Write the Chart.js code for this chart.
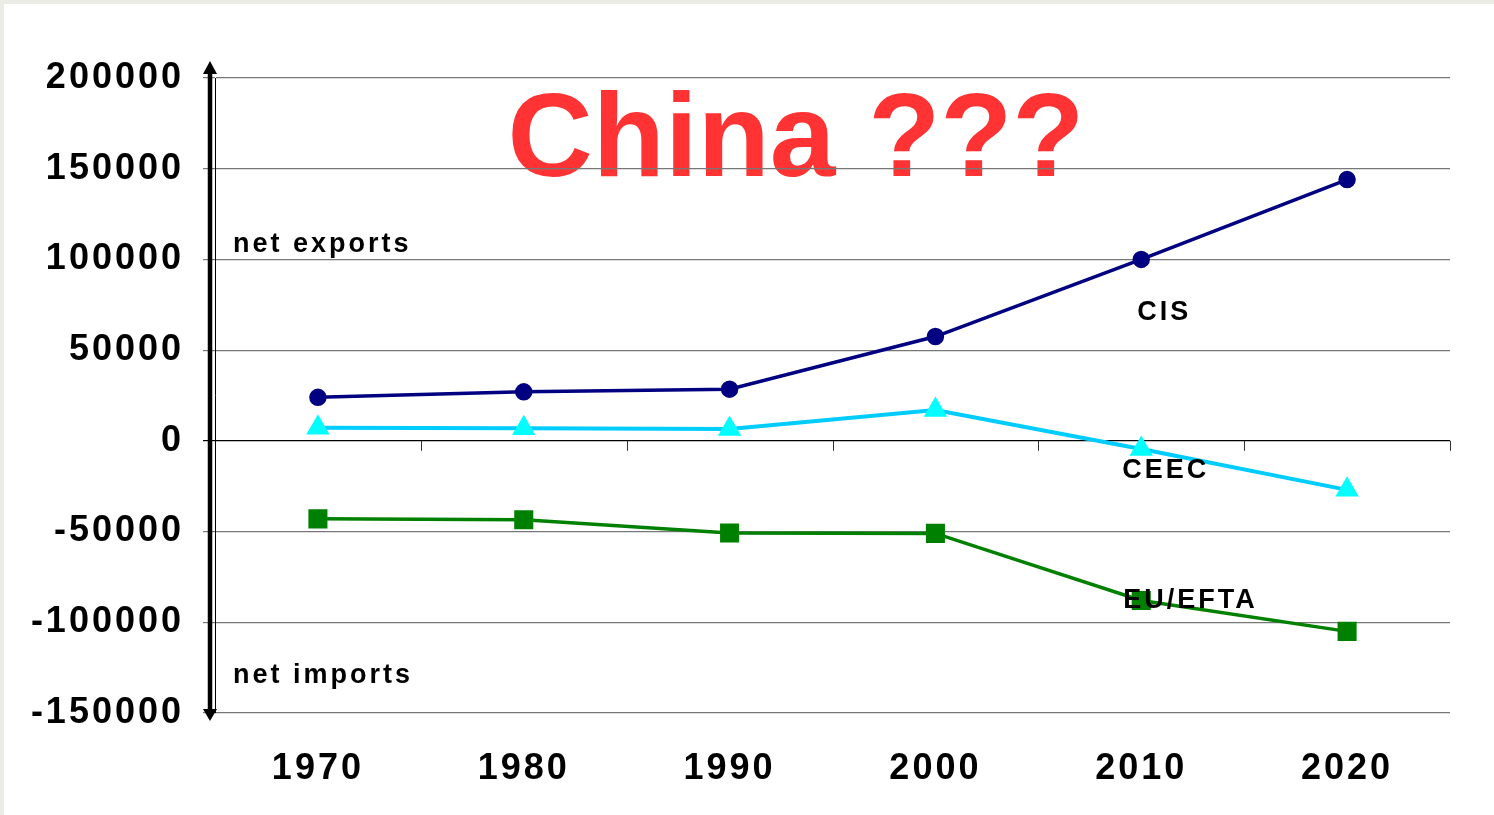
<!DOCTYPE html>
<html>
<head>
<meta charset="utf-8">
<script src="https://cdn.jsdelivr.net/npm/chart.js@4.4.1/dist/chart.umd.min.js"></script>
<style>
  html, body { margin: 0; padding: 0; background: #fff; overflow: hidden; }
  #wrap { width: 1494px; height: 815px; position: relative; }
</style>
</head>
<body>
<div id="wrap"><canvas id="trade"></canvas></div>
<script>
// Data
const years = ['1970', '1980', '1990', '2000', '2010', '2020'];
const cis = [24000, 27000, 28500, 57500, 100000, 144000];
const ceec = [7200, 7000, 6500, 17000, -4500, -27000];
const euEfta = [-43000, -43500, -50800, -51000, -88000, -105000];
const yTicks = [200000, 150000, 100000, 50000, 0, -50000, -100000, -150000];

// Text annotations: [text, x category index, x offset, y value]
const seriesLabels = [
  ['CIS', 4, -4, 70500],
  ['CEEC', 4, -19, -16500],
  ['EU/EFTA', 4, -18, -88200]
];
const sideLabels = [
  ['net exports', 108000],
  ['net imports', -129500]
];
const headline = 'China ???';

const FONT = 'Arial, "Liberation Sans", sans-serif';

const decor = {
  id: 'decor',
  beforeDraw(chart) {
    const { ctx, chartArea: a, scales: { y } } = chart;
    ctx.save();
    ctx.fillStyle = '#fff';
    ctx.fillRect(0, 0, chart.width, chart.height);
    // textured border strips
    ctx.fillStyle = '#ecece6';
    ctx.fillRect(0, 0, chart.width, 4);
    ctx.fillRect(0, 0, 4, chart.height);
    // headline
    ctx.fillStyle = '#ff3333';
    ctx.font = 'bold 118px ' + FONT;
    ctx.letterSpacing = '0px';
    ctx.textAlign = 'center';
    ctx.textBaseline = 'alphabetic';
    ctx.fillText(headline, a.left + 581, y.getPixelForValue(146000));
    // net exports / imports
    ctx.fillStyle = '#000';
    ctx.font = 'bold 27px ' + FONT;
    ctx.letterSpacing = '3px';
    ctx.textAlign = 'left';
    ctx.textBaseline = 'middle';
    sideLabels.forEach(([t, v]) => ctx.fillText(t, a.left + 18, y.getPixelForValue(v)));
    ctx.restore();
    ctx.letterSpacing = '3px';
  },
  beforeDatasetsDraw(chart) {
    const { ctx, chartArea: a, scales: { y } } = chart;
    const y0 = y.getPixelForValue(0);
    ctx.save();
    // ticks on the zero line between categories
    ctx.strokeStyle = '#333';
    ctx.lineWidth = 1;
    const step = (a.right - a.left) / years.length;
    for (let i = 1; i <= years.length; i++) {
      const x = Math.round(a.left + i * step) + 0.5;
      ctx.beginPath();
      ctx.moveTo(x, y0);
      ctx.lineTo(x, y0 + 10);
      ctx.stroke();
    }
    // thick double-headed arrow
    const ax = a.left - 5;
    const top = a.top - 17, bot = a.bottom + 8;
    ctx.strokeStyle = '#000';
    ctx.fillStyle = '#000';
    ctx.lineWidth = 4.5;
    ctx.beginPath();
    ctx.moveTo(ax, top + 8);
    ctx.lineTo(ax, bot - 8);
    ctx.stroke();
    ctx.beginPath();
    ctx.moveTo(ax, top);
    ctx.lineTo(ax - 7, top + 13);
    ctx.lineTo(ax + 7, top + 13);
    ctx.closePath();
    ctx.fill();
    ctx.beginPath();
    ctx.moveTo(ax, bot);
    ctx.lineTo(ax - 7, bot - 12);
    ctx.lineTo(ax + 7, bot - 12);
    ctx.closePath();
    ctx.fill();
    ctx.restore();
  },
  afterDatasetsDraw(chart) {
    const { ctx, scales: { x, y } } = chart;
    ctx.save();
    ctx.fillStyle = '#000';
    ctx.font = 'bold 27px ' + FONT;
    ctx.letterSpacing = '3px';
    ctx.textAlign = 'left';
    ctx.textBaseline = 'middle';
    seriesLabels.forEach(([t, i, dx, v]) => ctx.fillText(t, x.getPixelForValue(i) + dx, y.getPixelForValue(v)));
    ctx.restore();
  }
};

new Chart(document.getElementById('trade'), {
  type: 'line',
  data: {
    labels: years,
    datasets: [
      { label: 'CIS', data: cis, borderColor: '#000080', backgroundColor: '#000080',
        borderWidth: 3.5, pointStyle: 'circle', pointRadius: 7, tension: 0 },
      { label: 'CEEC', data: ceec, borderColor: '#00ccff', backgroundColor: '#00ffff',
        pointBorderColor: '#00ffff', borderWidth: 4, pointStyle: 'triangle', pointRadius: 9.5, tension: 0 },
      { label: 'EU/EFTA', data: euEfta, borderColor: '#008000', backgroundColor: '#008000',
        borderWidth: 3.5, pointStyle: 'rect', pointRadius: 11, tension: 0 }
    ]
  },
  options: {
    responsive: true, maintainAspectRatio: false, animation: false,
    layout: { padding: { top: 78, right: 44, left: 0, bottom: 0 } },
    plugins: { legend: { display: false }, tooltip: { enabled: false } },
    scales: {
      x: {
        offset: true,
        grid: { display: false },
        border: { display: false },
        ticks: { color: '#000', font: { family: FONT, size: 36, weight: 'bold' }, padding: 26 },
        afterFit(s) { s.height = 102; }
      },
      y: {
        min: -150000, max: 200000,
        afterBuildTicks(s) { s.ticks = yTicks.map(v => ({ value: v })); },
        grid: {
          color: c => (c.tick && c.tick.value === 0 ? '#000' : '#777'),
          lineWidth: 1.2,
          tickLength: 12
        },
        border: { display: true, color: '#000', width: 1 },
        ticks: { color: '#000', font: { family: FONT, size: 36, weight: 'bold' }, padding: 19,
          callback: v => String(v) },
        afterFit(s) { s.width = 215; }
      }
    }
  },
  plugins: [decor]
});
</script>
</body>
</html>
